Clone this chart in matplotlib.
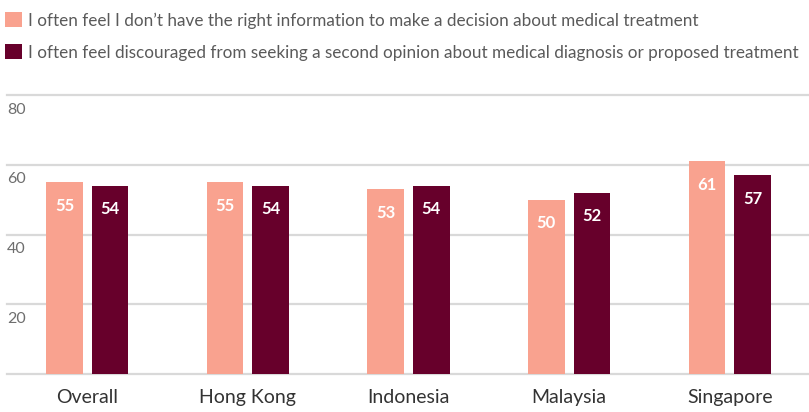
import numpy as np
import matplotlib.pyplot as plt

categories = ["Overall", "Hong Kong", "Indonesia", "Malaysia", "Singapore"]
no_info = [55, 55, 53, 50, 61]
discouraged = [54, 54, 54, 52, 57]
series_labels = [
    "I often feel I don\u2019t have the right information to make a decision about medical treatment",
    "I often feel discouraged from seeking a second opinion about medical diagnosis or proposed treatment",
]
y_ticks = [20, 40, 60, 80]

LIGHT = "#F9A28F"
DARK = "#67002B"
GRID = "#D9D9D9"

plt.rcParams["font.family"] = ["Lato", "DejaVu Sans"]

fig = plt.figure(figsize=(8.09, 4.12), dpi=100)
ax = fig.add_axes([7 / 809, 38 / 412, 803 / 809, 279 / 412])

x = np.arange(len(categories))
width = 0.227
offset = 0.142

b1 = ax.bar(x - offset, no_info, width, color=LIGHT, label=series_labels[0], zorder=3)
b2 = ax.bar(x + offset, discouraged, width, color=DARK, label=series_labels[1], zorder=3)

for bars in (b1, b2):
    for rect in bars:
        h = rect.get_height()
        ax.annotate(f"{h:g}", (rect.get_x() + rect.get_width() / 2, h),
                    xytext=(0, -17), textcoords="offset points",
                    ha="center", va="center", color="white",
                    fontsize=12, fontweight="bold", zorder=4)

ax.set_xlim(-0.5, len(categories) - 0.5)
ax.set_ylim(0, 80)

# horizontal gridlines incl. baseline
for v in [0] + y_ticks:
    ax.axhline(v, color=GRID, lw=1.6, zorder=1, clip_on=False)

# y labels sit just below their gridline
for v in y_ticks:
    ax.annotate(str(v), (0, v), xycoords=("axes fraction", "data"),
                xytext=(0, -10.5), textcoords="offset points",
                ha="left", va="center", fontsize=11.5, color="#6E6E6E")

ax.set_yticks([])
ax.set_xticks(x)
ax.set_xticklabels(categories, fontsize=14, color="#333333")
ax.tick_params(axis="x", length=0, pad=11)
for s in ax.spines.values():
    s.set_visible(False)

# legend: fit the long line to the width the reference uses
fs = 12
fig.canvas.draw()
probe = fig.text(0, 0, series_labels[1], fontsize=fs)
w = probe.get_window_extent(fig.canvas.get_renderer()).width
probe.remove()
fs = fs * 768 / w

fig.legend(handles=[b1, b2], loc="upper left", bbox_to_anchor=(5 / 809, 1 - 12 / 412),
           frameon=False, fontsize=fs, labelcolor="#5A5A5A",
           handlelength=1.0, handleheight=1.0, handletextpad=0.35,
           labelspacing=0.9, borderaxespad=0, borderpad=0)

fig.savefig("out.png", dpi=100)
